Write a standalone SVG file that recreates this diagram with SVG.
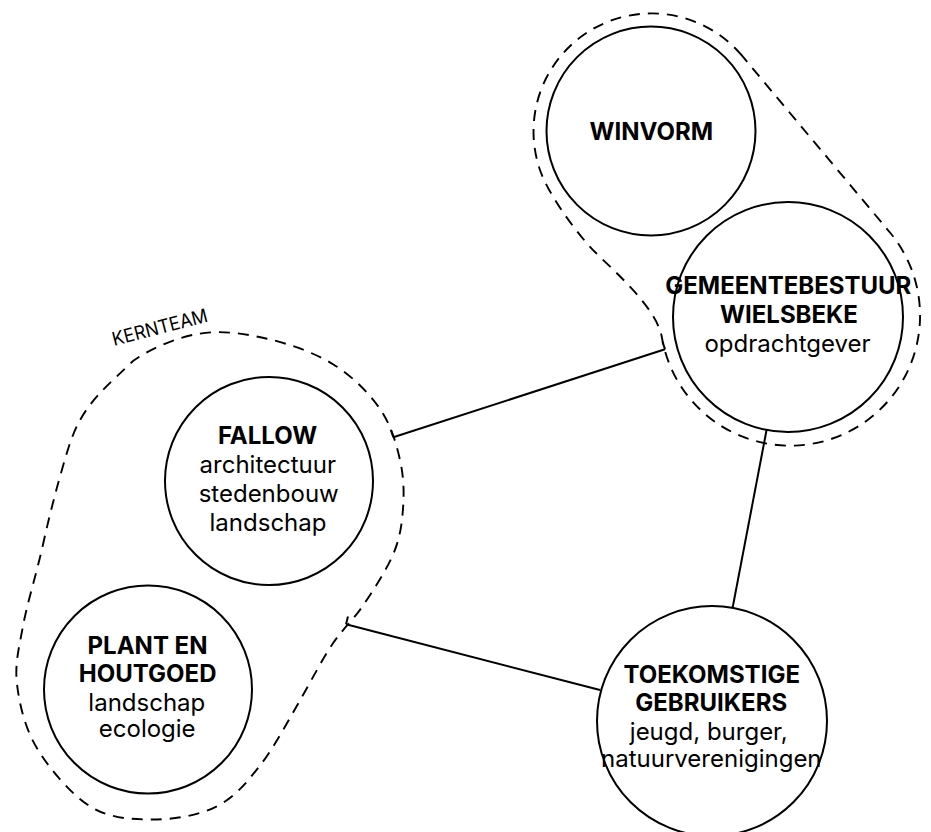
<svg xmlns="http://www.w3.org/2000/svg" width="931" height="832" viewBox="0 0 931 832">
<style>
.node circle{fill:#fff;stroke:#000;stroke-width:2}
.hull{fill:none;stroke:#000;stroke-width:1.9;stroke-dasharray:11 8}
.conn line{stroke:#000;stroke-width:2;stroke-linecap:butt}
text{font-family:Inter,"Liberation Sans",sans-serif;font-size:24px;text-anchor:middle;fill:#000}
.b{font-weight:700}
.lbl{font-size:19px;text-anchor:start}
</style>
<rect width="931" height="832" fill="#fff"/>
<g id="hulls">
<path id="hull-winvorm" class="hull" d="M741.6 55.2 A118 118 0 0 0 540 170 C548 194 577 234 595 252 C616 273 657 308 662 338 A130 130 0 1 0 890.8 233.5 Z"/>
<path id="hull-kernteam" class="hull" d="M200 333.6 C222.3 330 244.8 333.6 267 338.7 C289.2 343.8 314.2 352.6 333 364.2 C351.8 375.7 368.8 392.7 380 409 C391.2 425.3 396.2 443.4 400 460 C403.8 476.6 404.2 492.4 403 508.8 C401.8 525.2 399.7 539.3 393 554.7 C386.3 570.1 373 590.8 363 605.6 C353 620.4 343.5 627.9 333 643.3 C322.5 658.7 312.2 679.1 300 700.3 C287.8 721.5 273.8 748 260 765.5 C246.2 783 234.8 797.2 217 806.3 C199.2 815.4 174.2 819.5 153 819.5 C131.8 819.5 109.3 818.5 90 806.3 C70.7 794.1 49.2 768.6 37 748.2 C24.8 727.8 19.3 704 17 684 C14.7 664 18.7 649.5 23 626 C27.3 602.5 36.3 574.8 43 544.5 C49.7 514.2 55.7 491.5 63 466 C70.3 440.5 75.3 425.6 87 409 C98.7 392.4 114.2 379 133 361 C151.8 347.7 177.7 337 200 333.6 Z"/>
<text class="lbl" transform="translate(114 346) rotate(-14.5)" textLength="98" lengthAdjust="spacingAndGlyphs">KERNTEAM</text>
</g>
<g id="connectors" class="conn">
<line x1="393.3" y1="437.3" x2="665" y2="349.3"/>
<line x1="393.3" y1="437.3" x2="390.8" y2="429.7"/>
<line x1="665" y1="349.3" x2="662.5" y2="341.7"/>
<line x1="346" y1="624.3" x2="600" y2="690"/>
<line x1="346" y1="624.3" x2="348" y2="616.6"/>
<line x1="766.7" y1="429.3" x2="732.7" y2="607.3"/>
</g>
<g id="winvorm" class="node">
<circle cx="651" cy="131" r="104.5"/>
<text class="b" x="651.3" y="140">WINVORM</text>
</g>
<g id="gemeentebestuur" class="node">
<circle cx="788" cy="317" r="115"/>
<text class="b" x="788.3" y="294.3">GEMEENTEBESTUUR</text>
<text class="b" x="789" y="323.3">WIELSBEKE</text>
<text x="787.5" y="351.7">opdrachtgever</text>
</g>
<g id="fallow" class="node">
<circle cx="269" cy="481" r="104"/>
<text class="b" x="267.5" y="444">FALLOW</text>
<text x="267.8" y="472.7">architectuur</text>
<text x="268.7" y="501.7">stedenbouw</text>
<text x="268" y="530.5">landschap</text>
</g>
<g id="plant" class="node">
<circle cx="148" cy="689.5" r="104"/>
<text class="b" x="147.5" y="654">PLANT EN</text>
<text class="b" x="147.7" y="681.7">HOUTGOED</text>
<text x="146.8" y="710.5">landschap</text>
<text x="147.2" y="737.3">ecologie</text>
</g>
<g id="toekomstige" class="node">
<circle cx="712" cy="721" r="115"/>
<text class="b" x="711.7" y="682.7">TOEKOMSTIGE</text>
<text class="b" x="711.2" y="710.7">GEBRUIKERS</text>
<text x="708.7" y="740">jeugd, burger,</text>
<text x="711.3" y="766.7">natuurverenigingen</text>
</g>
</svg>
